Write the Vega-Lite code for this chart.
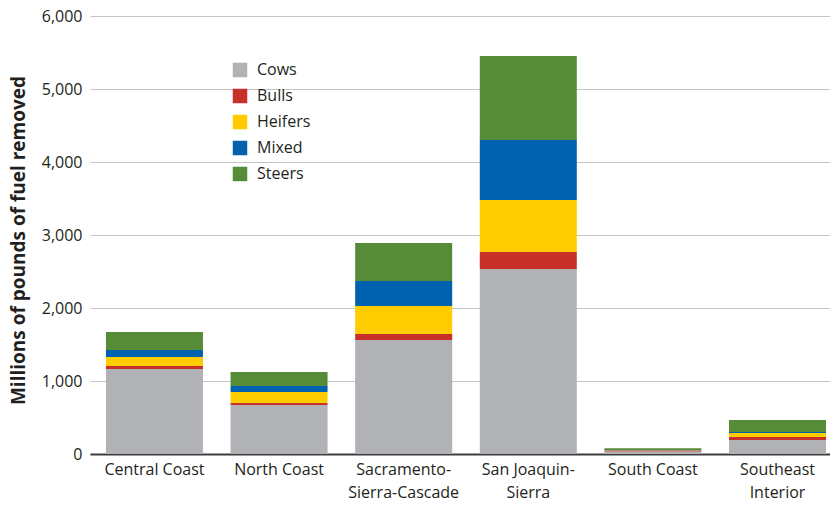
{
  "$schema": "https://vega.github.io/schema/vega-lite/v6.json",
  "width": 740,
  "height": 438,
  "autosize": {"type": "none"},
  "padding": {"left": 90, "top": 16, "right": 0, "bottom": 52},
  "background": "white",
  "config": {
    "view": {"stroke": null},
    "font": "Open Sans"
  },
  "data": {
    "values": [
      {"region": "Central Coast", "type": "Cows", "value": 1164},
      {"region": "Central Coast", "type": "Bulls", "value": 41},
      {"region": "Central Coast", "type": "Heifers", "value": 124},
      {"region": "Central Coast", "type": "Mixed", "value": 96},
      {"region": "Central Coast", "type": "Steers", "value": 246},
      {"region": "North Coast", "type": "Cows", "value": 671},
      {"region": "North Coast", "type": "Bulls", "value": 28},
      {"region": "North Coast", "type": "Heifers", "value": 150},
      {"region": "North Coast", "type": "Mixed", "value": 83},
      {"region": "North Coast", "type": "Steers", "value": 191},
      {"region": "Sacramento-Sierra-Cascade", "type": "Cows", "value": 1562},
      {"region": "Sacramento-Sierra-Cascade", "type": "Bulls", "value": 82},
      {"region": "Sacramento-Sierra-Cascade", "type": "Heifers", "value": 383},
      {"region": "Sacramento-Sierra-Cascade", "type": "Mixed", "value": 343},
      {"region": "Sacramento-Sierra-Cascade", "type": "Steers", "value": 520},
      {"region": "San Joaquin-Sierra", "type": "Cows", "value": 2534},
      {"region": "San Joaquin-Sierra", "type": "Bulls", "value": 233},
      {"region": "San Joaquin-Sierra", "type": "Heifers", "value": 712},
      {"region": "San Joaquin-Sierra", "type": "Mixed", "value": 822},
      {"region": "San Joaquin-Sierra", "type": "Steers", "value": 1151},
      {"region": "South Coast", "type": "Cows", "value": 35},
      {"region": "South Coast", "type": "Bulls", "value": 12},
      {"region": "South Coast", "type": "Heifers", "value": 5},
      {"region": "South Coast", "type": "Mixed", "value": 3},
      {"region": "South Coast", "type": "Steers", "value": 25},
      {"region": "Southeast Interior", "type": "Cows", "value": 192},
      {"region": "Southeast Interior", "type": "Bulls", "value": 41},
      {"region": "Southeast Interior", "type": "Heifers", "value": 55},
      {"region": "Southeast Interior", "type": "Mixed", "value": 13},
      {"region": "Southeast Interior", "type": "Steers", "value": 165}
    ]
  },
  "transform": [
    {"calculate": "indexof(['Cows', 'Bulls', 'Heifers', 'Mixed', 'Steers'], datum.type)", "as": "stackOrder"}
  ],
  "mark": {"type": "bar"},
  "encoding": {
    "x": {
      "field": "region",
      "type": "nominal",
      "sort": null,
      "scale": {"paddingInner": 0.2215, "paddingOuter": 0.08, "align": 0.8},
      "axis": {
        "title": null,
        "labelAngle": 0,
        "labelFontSize": 16,
        "labelColor": "#231f20",
        "labelPadding": 7,
        "labelLineHeight": 23,
        "ticks": false,
        "domainColor": "#3c3c3c",
        "domainWidth": 2,
        "labelExpr": "datum.label == 'Sacramento-Sierra-Cascade' ? ['Sacramento-', 'Sierra-Cascade'] : datum.label == 'San Joaquin-Sierra' ? ['San Joaquin-', 'Sierra'] : datum.label == 'Southeast Interior' ? ['Southeast', 'Interior'] : datum.label"
      }
    },
    "y": {
      "field": "value",
      "type": "quantitative",
      "stack": "zero",
      "scale": {"domain": [0, 6000], "nice": false},
      "axis": {
        "title": "Millions of pounds of fuel removed",
        "titleFontSize": 19,
        "titleFontWeight": "bold",
        "titleColor": "#231f20",
        "titlePadding": 13,
        "titleY": 224,
        "values": [0, 1000, 2000, 3000, 4000, 5000, 6000],
        "format": ",d",
        "labelFontSize": 16,
        "labelColor": "#231f20",
        "labelPadding": 8,
        "ticks": false,
        "domain": false,
        "grid": true,
        "gridColor": "#c4c4c4",
        "gridWidth": 1.2
      }
    },
    "color": {
      "field": "type",
      "type": "nominal",
      "scale": {
        "domain": ["Cows", "Bulls", "Heifers", "Mixed", "Steers"],
        "range": ["#b1b2b5", "#c8302a", "#ffcc00", "#0061ae", "#568b37"]
      },
      "legend": {
        "title": null,
        "orient": "none",
        "legendX": 142,
        "legendY": 46,
        "symbolType": "square",
        "symbolSize": 210,
        "symbolStrokeWidth": 0,
        "labelFontSize": 16,
        "labelColor": "#231f20",
        "rowPadding": 10,
        "labelOffset": 9
      }
    },
    "order": {"field": "stackOrder", "type": "quantitative", "sort": "ascending"}
  }
}
